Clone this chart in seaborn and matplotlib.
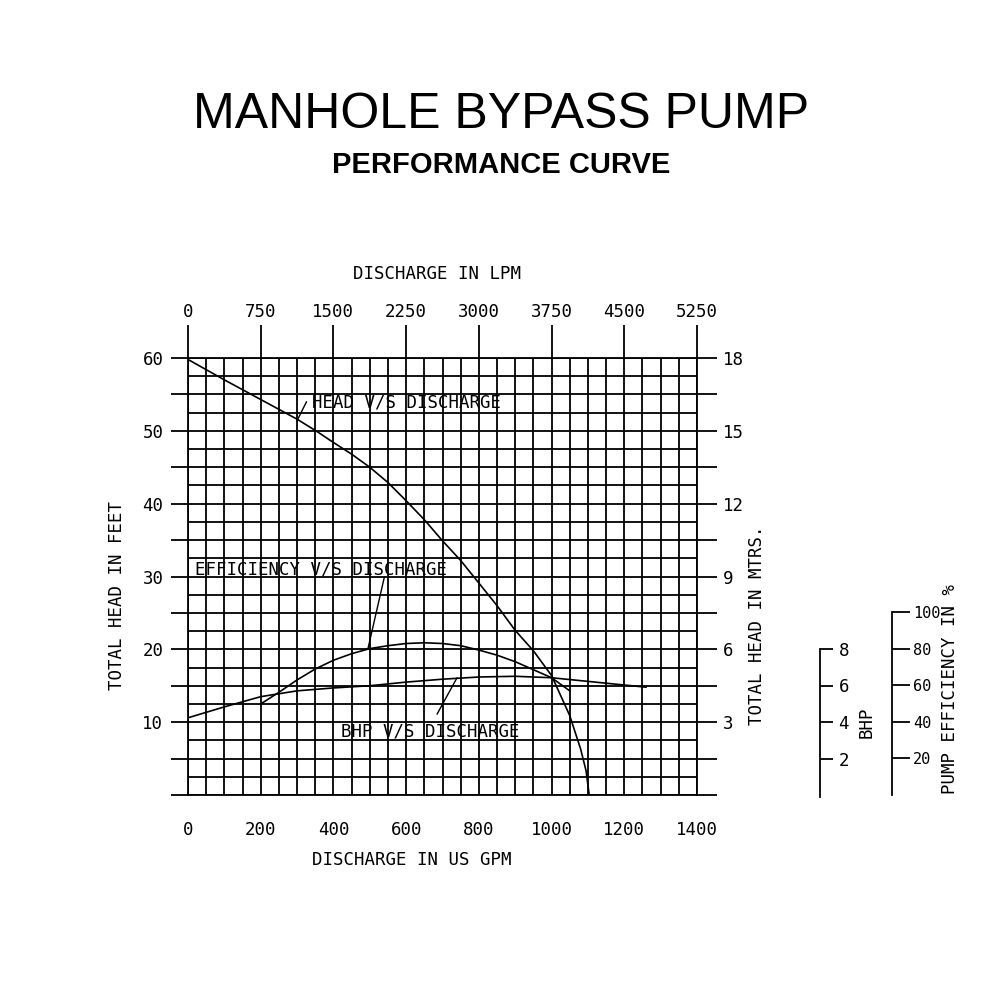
import numpy as np
import pandas as pd
import matplotlib
matplotlib.use("Agg")
import matplotlib.pyplot as plt
from matplotlib.ticker import FixedLocator, FuncFormatter
import seaborn as sns

# ---------------- data ----------------
head_gpm = [0, 100, 200, 300, 355, 400, 450, 500, 550, 600, 650, 700, 750, 800,
            850, 900, 950, 1000, 1050, 1080, 1095, 1103]
head_ft = [59.8, 57.0, 54.3, 51.6, 49.9, 48.4, 46.8, 45.0, 42.9, 40.4, 37.8, 34.9,
           32.2, 29.1, 26.0, 22.6, 19.8, 16.4, 10.9, 6.3, 3.3, 0.2]

eff_gpm = [200, 250, 300, 350, 400, 450, 500, 550, 600, 650, 700, 750, 800, 850,
           900, 950, 1000, 1050]
eff_pct = [50.0, 56.4, 63.2, 69.2, 74.0, 77.6, 80.4, 82.0, 83.2, 83.6, 83.2, 82.0,
           79.6, 76.8, 73.2, 68.8, 64.4, 57.2]

bhp_gpm = [0, 100, 200, 300, 400, 500, 600, 700, 800, 900, 1000, 1100, 1200, 1260]
bhp_val = [4.24, 4.84, 5.40, 5.72, 5.88, 6.00, 6.20, 6.36, 6.48, 6.52, 6.44, 6.24,
           6.04, 5.92]

gpm_ticks = [0, 200, 400, 600, 800, 1000, 1200, 1400]
lpm_ticks = [0, 750, 1500, 2250, 3000, 3750, 4500, 5250]
ft_labels = [10, 20, 30, 40, 50, 60]
m_labels = [3, 6, 9, 12, 15, 18]
bhp_ticks = [2, 4, 6, 8]
eff_ticks = [20, 40, 60, 80, 100]

LPM_PER_GPM = 3.75
M_PER_FT = 0.3
EFF_PER_FT = 4.0      # 20 % per 5 ft on the chart
BHP_PER_FT = 0.4      # 2 BHP per 5 ft on the chart

head_df = pd.DataFrame({"gpm": head_gpm, "ft": head_ft})
eff_df = pd.DataFrame({"gpm": eff_gpm, "eff": eff_pct})
bhp_df = pd.DataFrame({"gpm": bhp_gpm, "bhp": bhp_val})

# ---------------- style ----------------
sns.set_theme(style="white")
plt.rcParams["font.family"] = ["DejaVu Sans Mono", "DejaVu Sans"]
plt.rcParams["axes.linewidth"] = 1.3
plt.rcParams["text.color"] = "black"
plt.rcParams["axes.labelcolor"] = "black"
plt.rcParams["xtick.color"] = "black"
plt.rcParams["ytick.color"] = "black"
MONO = 12.5
LW = 1.3

fig = plt.figure(figsize=(10, 10), dpi=100)
ax = fig.add_axes([0.188, 0.205, 0.509, 0.437])
ax.set_facecolor("white")

ax.set_xlim(0, 1400)
ax.set_ylim(0, 60)

# grid
ax.set_xticks(np.arange(0, 1401, 100))
ax.set_xticks(np.arange(0, 1401, 50), minor=True)
ax.set_yticks(np.arange(0, 61, 5))
ax.set_yticks(np.arange(0, 61, 2.5), minor=True)
ax.grid(which="both", color="black", linewidth=LW)
ax.set_axisbelow(True)
ax.xaxis.set_major_formatter(FuncFormatter(lambda v, p: f"{int(v)}" if int(v) in gpm_ticks else ""))
ax.yaxis.set_major_formatter(FuncFormatter(lambda v, p: f"{int(v)}" if v in ft_labels else ""))
ax.tick_params(axis="x", which="major", direction="out", length=7.4, width=LW,
               color="black", labelsize=MONO, pad=11, labelcolor="black")
ax.tick_params(axis="y", which="major", direction="out", length=12.2, width=LW,
               color="black", labelsize=MONO, pad=5.5, labelcolor="black")
ax.tick_params(which="minor", length=0)
for s in ax.spines.values():
    s.set_color("black")
    s.set_linewidth(LW)

# curves
sns.lineplot(data=head_df, x="gpm", y="ft", ax=ax, color="black", linewidth=1.2,
             estimator=None, sort=False)
ax_eff = ax.twinx()
ax_eff.set_ylim(0, 60 * EFF_PER_FT)
sns.lineplot(data=eff_df, x="gpm", y="eff", ax=ax_eff, color="black", linewidth=1.2,
             estimator=None, sort=False)
ax_bhp = ax.twinx()
ax_bhp.set_ylim(0, 60 * BHP_PER_FT)
sns.lineplot(data=bhp_df, x="gpm", y="bhp", ax=ax_bhp, color="black", linewidth=1.2,
             estimator=None, sort=False)
for a in (ax_eff, ax_bhp):
    a.set_axis_off()
    a.set_xlim(0, 1400)
ax.set_xlabel("")
ax.set_ylabel("")

# secondary axes (LPM top, metres right)
top = ax.secondary_xaxis("top", functions=(lambda g: g * LPM_PER_GPM, lambda l: l / LPM_PER_GPM))
top.set_xticks(lpm_ticks)
top.set_xticklabels([str(v) for v in lpm_ticks])
top.tick_params(direction="out", length=23.8, width=LW, color="black",
                labelsize=MONO, pad=3, labelcolor="black")
top.spines["top"].set_visible(False)

right = ax.secondary_yaxis("right", functions=(lambda f: f * M_PER_FT, lambda m: m / M_PER_FT))
rt = [round(f * M_PER_FT, 2) for f in range(0, 61, 5)]
right.yaxis.set_major_locator(FixedLocator(rt))
right.yaxis.set_major_formatter(FuncFormatter(
    lambda v, p: f"{int(round(v))}" if any(abs(v - m) < 1e-6 for m in m_labels) else ""))
right.tick_params(direction="out", length=14.4, width=LW, color="black",
                  labelsize=MONO, pad=4, labelcolor="black")
right.spines["right"].set_visible(False)

# annotations
ax.text(341, 53.9, "HEAD V/S DISCHARGE", fontsize=MONO, va="center", ha="left")
ax.plot([302, 326], [51.6, 54.0], color="black", lw=1)
ax.text(19, 30.9, "EFFICIENCY V/S DISCHARGE", fontsize=MONO, va="center", ha="left")
ax.plot([495, 540], [20.1, 29.9], color="black", lw=1)
ax.text(421, 8.65, "BHP V/S DISCHARGE", fontsize=MONO, va="center", ha="left")
ax.plot([685, 740], [11.1, 16.1], color="black", lw=1)

# axis titles
fig.text(0.437, 1 - 0.274, "DISCHARGE IN LPM", fontsize=MONO, ha="center", va="center")
fig.text(0.412, 1 - 0.860, "DISCHARGE IN US GPM", fontsize=MONO, ha="center", va="center")
fig.text(0.117, 1 - 0.595, "TOTAL HEAD IN FEET", fontsize=MONO, ha="center", va="center",
         rotation=90)
fig.text(0.757, 1 - 0.625, "TOTAL HEAD IN MTRS.", fontsize=MONO, ha="center", va="center",
         rotation=90)

# BHP scale
axb = fig.add_axes([0.810, 0.205, 0.010, 0.146])
axb.set_ylim(0, 8)
axb.set_facecolor("none")
for k, s in axb.spines.items():
    s.set_visible(k == "right")
axb.spines["right"].set_color("black")
axb.spines["right"].set_linewidth(LW)
axb.spines["right"].set_bounds(-0.1, 8)
axb.set_xticks([])
axb.yaxis.tick_right()
axb.set_yticks(bhp_ticks)
axb.set_yticklabels([str(v) for v in bhp_ticks])
axb.tick_params(axis="y", direction="out", length=9.4, width=LW, color="black",
                labelsize=MONO, pad=4, labelcolor="black")
fig.text(0.867, 1 - 0.722, "BHP", fontsize=MONO, ha="center", va="center", rotation=90)

# efficiency scale
axe = fig.add_axes([0.882, 0.205, 0.010, 0.183])
axe.set_ylim(0, 100)
axe.set_facecolor("none")
for k, s in axe.spines.items():
    s.set_visible(k == "right")
axe.spines["right"].set_color("black")
axe.spines["right"].set_linewidth(LW)
axe.set_xticks([])
axe.yaxis.tick_right()
axe.set_yticks(eff_ticks)
axe.set_yticklabels([str(v) for v in eff_ticks])
axe.tick_params(axis="y", direction="out", length=13, width=LW, color="black",
                labelsize=11, pad=2, labelcolor="black")
fig.text(0.950, 1 - 0.689, "PUMP EFFICIENCY IN %", fontsize=MONO, ha="center",
         va="center", rotation=90)

# titles
fig.text(0.501, 1 - 0.115, "MANHOLE BYPASS PUMP", fontsize=36, ha="center", va="center",
         family="Liberation Sans", color="black")
fig.text(0.501, 1 - 0.165, "PERFORMANCE CURVE", fontsize=21, ha="center", va="center",
         family="Liberation Sans", fontweight="bold", color="black")

fig.savefig("out.png", dpi=100, facecolor="white")
